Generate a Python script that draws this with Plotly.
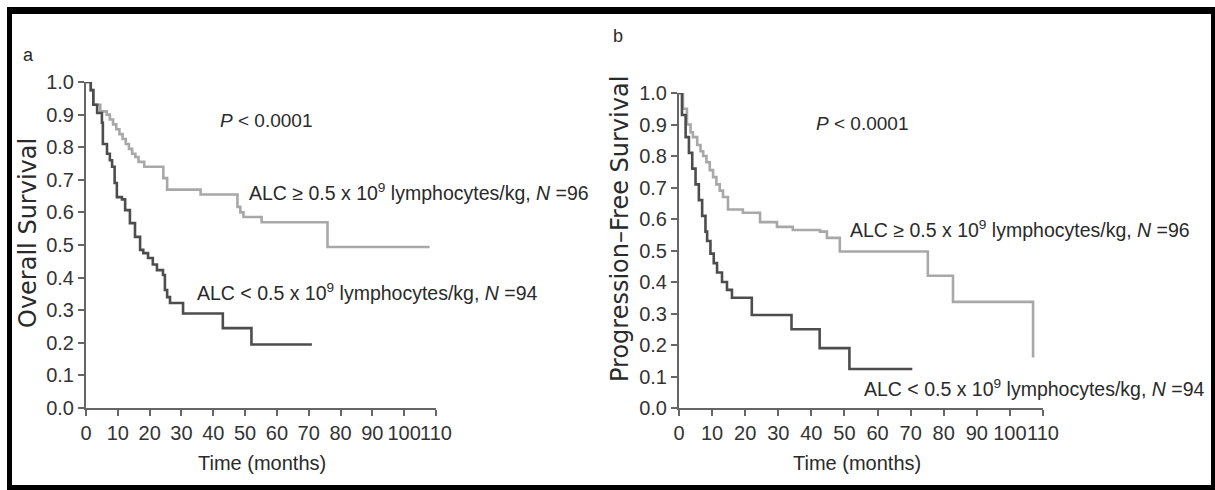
import plotly.graph_objects as go

W, H = 1215, 490

# ---- data ----
os_high_t = [0, 1.5, 2.3, 4.5, 6.5, 7.5, 8.5, 9.5, 10.5, 11.5, 12.5, 13.5, 14.5, 15.5, 16.5, 18.3,
             24.3, 25.5, 36, 47.6, 48.5, 49.5, 55.2, 75.9, 108]
os_high_s = [1.0, 0.975, 0.93, 0.91, 0.90, 0.885, 0.87, 0.855, 0.84, 0.825, 0.81, 0.795, 0.78, 0.77, 0.755, 0.74,
             0.705, 0.67, 0.655, 0.617, 0.60, 0.586, 0.57, 0.494, 0.494]

os_low_t = [0, 1.5, 2.3, 3.5, 5, 5.3, 6.6, 7.5, 8.2, 9, 9.7, 11.3, 12.3, 13.8, 15.4, 17, 18, 19.5, 21,
            22.3, 24.2, 24.8, 25.5, 26.4, 30.5, 43, 52, 71]
os_low_s = [1.0, 0.975, 0.93, 0.905, 0.875, 0.81, 0.78, 0.76, 0.74, 0.69, 0.647, 0.64, 0.607, 0.567, 0.525,
            0.485, 0.475, 0.46, 0.44, 0.423, 0.408, 0.362, 0.34, 0.322, 0.29, 0.245, 0.195, 0.195]

pfs_high_t = [0, 1.2, 2.4, 3.5, 4.2, 5.5, 6.5, 7.3, 8.3, 9.3, 10.3, 11.3, 12.3, 13.3, 14.8, 19.3, 24.5,
              29.6, 34.4, 42.6, 44.7, 48.6, 75.2, 82.8, 107]
pfs_high_s = [1.0, 0.95, 0.90, 0.875, 0.86, 0.835, 0.815, 0.80, 0.78, 0.755, 0.733, 0.71, 0.69, 0.67, 0.63,
              0.62, 0.59, 0.575, 0.565, 0.56, 0.54, 0.497, 0.42, 0.337, 0.16]

pfs_low_t = [0, 0.9, 2, 3, 4, 5, 6, 7, 8, 8.5, 9.5, 10.5, 11.5, 13, 14.5, 16, 22, 34, 42.5, 51.5, 70.5]
pfs_low_s = [1.0, 0.93, 0.86, 0.81, 0.76, 0.71, 0.66, 0.61, 0.56, 0.53, 0.49, 0.46, 0.43, 0.40, 0.375,
             0.35, 0.295, 0.25, 0.19, 0.124, 0.124]

x_ticks = list(range(0, 111, 10))
y_ticks = [i / 10 for i in range(11)]
y_tick_labels = [f"{v:.1f}" for v in y_ticks]

label_high = "ALC ≥ 0.5 x 10<sup>9</sup> lymphocytes/kg, <i>N</i> =96"
label_low = "ALC < 0.5 x 10<sup>9</sup> lymphocytes/kg, <i>N</i> =94"
p_text = "<i>P</i> < 0.0001"

LIGHT = "#a8a8a8"
DARK = "#4d4d4d"
SANS = "Liberation Sans, Arial, sans-serif"
WIDE = "DejaVu Sans, Verdana, sans-serif"


def px(x):
    return x / W


def py(y):
    return 1 - y / H


fig = go.Figure()
for t, s, col, xa, ya in [
    (os_high_t, os_high_s, LIGHT, "x", "y"),
    (os_low_t, os_low_s, DARK, "x", "y"),
    (pfs_high_t, pfs_high_s, LIGHT, "x2", "y2"),
    (pfs_low_t, pfs_low_s, DARK, "x2", "y2"),
]:
    fig.add_trace(go.Scatter(x=t, y=s, mode="lines", line=dict(color=col, width=2.6, shape="hv"),
                             xaxis=xa, yaxis=ya, showlegend=False, cliponaxis=False, hoverinfo="skip"))

axis_common = dict(showgrid=False, zeroline=False, showline=True, linecolor="#666666", linewidth=2,
                   ticks="outside", tickcolor="#666666", tickwidth=1.5, ticklen=6, tickangle=0,
                   automargin=False, tickfont=dict(family=SANS, size=20, color="#333333"))

fig.update_layout(
    template="none",
    width=W, height=H, margin=dict(l=0, r=0, t=0, b=0, pad=0), autosize=False,
    paper_bgcolor="white", plot_bgcolor="rgba(0,0,0,0)",
    font=dict(family=SANS, color="#2a2a2a"),
    xaxis=dict(domain=[px(86), px(436)], range=[0, 110], tickvals=x_ticks, anchor="y", **axis_common),
    yaxis=dict(domain=[py(408), py(82)], range=[0, 1.0], tickvals=y_ticks, ticktext=y_tick_labels,
               anchor="x", **axis_common),
    xaxis2=dict(domain=[px(679), px(1043)], range=[0, 110], tickvals=x_ticks, anchor="y2", **axis_common),
    yaxis2=dict(domain=[py(408), py(93)], range=[0, 1.0], tickvals=y_ticks, ticktext=y_tick_labels,
                anchor="x2", **axis_common),
)

annots = []


def ann(text, x, y, size=20, family=SANS, xanchor="center", angle=0):
    annots.append(dict(text=text, x=px(x), y=py(y), xref="paper", yref="paper", showarrow=False,
                       xanchor=xanchor, yanchor="middle", textangle=angle,
                       font=dict(family=family, size=size, color="#2a2a2a")))


# panel a
ann("a", 28, 55, size=18)
ann(p_text, 266, 121, size=19)
ann(label_high, 247, 192, size=19.5, xanchor="left")
ann(label_low, 195, 292, size=19.5, xanchor="left")
ann("Overall Survival", 28, 233, size=24, family=WIDE, angle=-90)
ann("Time (months)", 262, 463, size=20)
# panel b
ann("b", 618, 36, size=18)
ann(p_text, 862, 124, size=19)
ann(label_high, 848, 229, size=19.5, xanchor="left")
ann(label_low, 862, 388, size=19.5, xanchor="left")
ann("Progression–Free Survival", 620, 229, size=24, family=WIDE, angle=-90)
ann("Time (months)", 857, 463, size=20)

fig.update_layout(annotations=annots)

# black frame
shapes = []
for x0, y0, x1, y1 in [(7, 7, 1215, 14), (7, 7, 12, 490), (7, 485, 1215, 490), (1211, 7, 1215, 490)]:
    shapes.append(dict(type="rect", xref="paper", yref="paper", x0=px(x0), x1=px(x1), y0=py(y1), y1=py(y0),
                       fillcolor="black", line=dict(width=0), layer="above"))
fig.update_layout(shapes=shapes)

fig.write_html("out.html")
